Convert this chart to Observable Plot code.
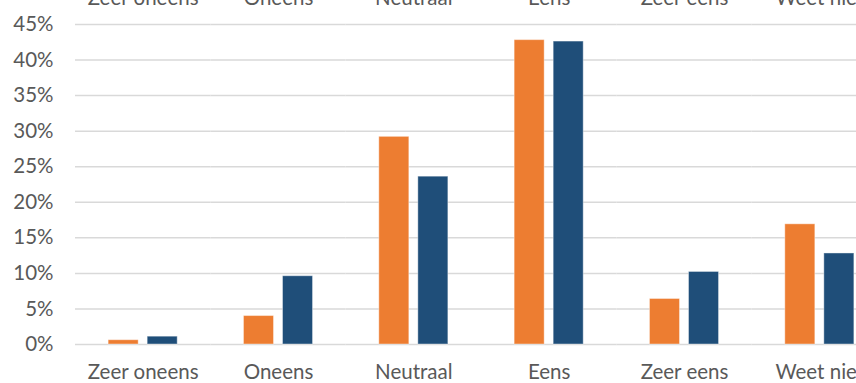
<!DOCTYPE html>
<html><head><meta charset="utf-8">
<script src="https://cdn.jsdelivr.net/npm/d3@7"></script>
<script src="https://cdn.jsdelivr.net/npm/@observablehq/plot@0.6"></script>
<style>
html,body{margin:0;padding:0;overflow:hidden;background:#fff;width:856px;height:383px}
#chart{width:856px;height:383px;overflow:hidden}
#chart svg{display:block;max-width:none !important}
</style></head><body><div id="chart"></div>
<script>
const categories = ["Zeer oneens", "Oneens", "Neutraal", "Eens", "Zeer eens", "Weet niet"];
const seriesNames = ["Reeks 1", "Reeks 2"];
const series1 = [0.6, 4.0, 29.2, 42.8, 6.4, 16.9];
const series2 = [1.1, 9.6, 23.6, 42.6, 10.2, 12.8];
const yTicks = [0, 5, 10, 15, 20, 25, 30, 35, 40, 45];
const colors = ["#ED7D31", "#1F4E79"];

const data = categories.flatMap((c, i) => [
  {category: c, series: seriesNames[0], value: series1[i]},
  {category: c, series: seriesNames[1], value: series2[i]}
]);

const chart = Plot.plot({
  width: 887, height: 383,
  marginLeft: 75, marginRight: 0, marginTop: 24, marginBottom: 39,
  style: {fontFamily: "Lato", fontSize: "20.5px", color: "#595959", background: "#fff", overflow: "hidden", maxWidth: "none"},
  fx: {domain: categories, paddingInner: 0, paddingOuter: 0, round: false, label: null, axis: null},
  x: {domain: seriesNames, paddingInner: 0.2308, paddingOuter: 0.849, round: false, axis: null},
  y: {domain: [0, 45], axis: null},
  color: {domain: seriesNames, range: colors},
  marks: [
    Plot.gridY(yTicks, {stroke: "#d9d9d9", strokeOpacity: 1, strokeWidth: 1.5}),
    Plot.axisY(yTicks, {tickSize: 0, tickPadding: 22, tickFormat: d => d + "%", label: null, fill: "#595959"}),
    Plot.axisFx({anchor: "top", tickSize: 0, tickPadding: 20, label: null, fill: "#595959"}),
    Plot.axisFx({anchor: "bottom", tickSize: 0, tickPadding: 20, label: null, fill: "#595959"}),
    Plot.barY(data, {fx: "category", x: "series", y: "value", fill: "series", stroke: "#ffffff", strokeOpacity: 0.4, strokeWidth: 1})
  ]
});
document.getElementById("chart").appendChild(chart);
</script></body></html>
